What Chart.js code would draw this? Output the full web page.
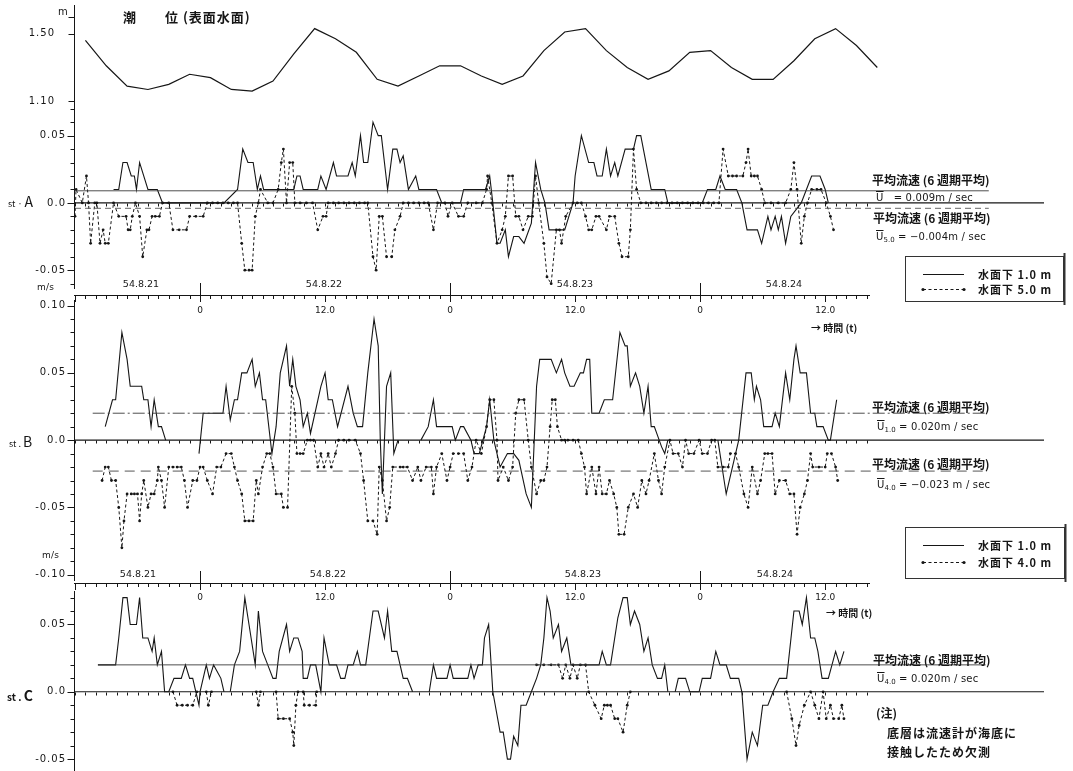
<!DOCTYPE html>
<html>
<head>
<meta charset="utf-8">
<script src="https://cdn.jsdelivr.net/npm/chart.js@4"></script>
<style>
  html, body { margin: 0; padding: 0; background: #fff; }
  #wrap { position: relative; width: 1073px; height: 771px; overflow: hidden; }
  canvas { position: absolute; left: 0; top: 0; }
  .t { position: absolute; font-family: "Noto Sans CJK JP", "DejaVu Sans", sans-serif; color: #161616;
       white-space: nowrap; line-height: 1; transform: translateY(-50%); font-size: 12px; font-weight: bold; }
  .n { font-family: "DejaVu Sans", sans-serif; font-size: 10px; letter-spacing: 0.2px; font-weight: normal; }
  .ov { text-decoration: overline; }
  sub { font-size: 7px; vertical-align: -2px; letter-spacing: 0; }
</style>
</head>
<body>
<div id="wrap">
  <canvas id="c" width="1073" height="771"></canvas>

  <div class="t" style="left:123px;top:16px;font-size:13px">潮</div>
  <div class="t" style="left:165px;top:16px;font-size:13px;letter-spacing:1px">位 (表面水面)</div>
  <div class="t n" style="left:58px;top:12px">m</div>

  <div class="t" style="left:8px;top:201px;font-weight:normal"><span style="font-size:9px">st · </span><span style="font-size:14px">A</span></div>
  <div class="t n" style="left:37px;top:287px;font-size:9px">m/s</div>
  <div class="t" style="left:9px;top:441px;font-weight:normal"><span style="font-size:9px">st . </span><span style="font-size:14px">B</span></div>
  <div class="t n" style="left:42px;top:555px;font-size:9px">m/s</div>
  <div class="t" style="left:7px;top:695px"><span style="font-size:10px">st . </span><span style="font-size:14px">C</span></div>

  <div class="t" style="left:811px;top:328px;font-size:10px">→ 時間 (t)</div>
  <div class="t" style="left:826px;top:613px;font-size:10px">→ 時間 (t)</div>

  <div class="t" style="left:872px;top:180px">平均流速 (6 週期平均)</div>
  <div class="t n" style="left:876px;top:198px"><span class="ov">U</span> &nbsp; = 0.009m / sec</div>
  <div class="t" style="left:873px;top:218px">平均流速 (6 週期平均)</div>
  <div class="t n" style="left:876px;top:238px"><span class="ov">U</span><sub>5.0</sub> = −0.004m / sec</div>

  <div class="t" style="left:872px;top:407px">平均流速 (6 週期平均)</div>
  <div class="t n" style="left:877px;top:428px"><span class="ov">U</span><sub>1.0</sub> = 0.020m / sec</div>
  <div class="t" style="left:872px;top:464px">平均流速 (6 週期平均)</div>
  <div class="t n" style="left:877px;top:486px"><span class="ov">U</span><sub>4.0</sub> = −0.023 m / sec</div>

  <div class="t" style="left:873px;top:660px">平均流速 (6 週期平均)</div>
  <div class="t n" style="left:877px;top:680px"><span class="ov">U</span><sub>4.0</sub> = 0.020m / sec</div>
  <div class="t" style="left:876px;top:713px">(注)</div>
  <div class="t" style="left:887px;top:733px;letter-spacing:1px">底層は流速計が海底に</div>
  <div class="t" style="left:887px;top:752px;letter-spacing:1px">接触したため欠測</div>

  <div class="t" style="left:978px;top:274px;letter-spacing:1px;font-size:11px">水面下 1.0 m</div>
  <div class="t" style="left:978px;top:289px;letter-spacing:1px;font-size:11px">水面下 5.0 m</div>
  <div class="t" style="left:978px;top:545px;letter-spacing:1px;font-size:11px">水面下 1.0 m</div>
  <div class="t" style="left:978px;top:562px;letter-spacing:1px;font-size:11px">水面下 4.0 m</div>
</div>

<script>
// 時刻は 54.8.22 0時を 0 とした経過時間 (h)

// 潮位 (m) [時刻, 潮位]
const tide = [[-11,1.46],[-9,1.31],[-7,1.19],[-5,1.17],[-3,1.20],[-1,1.26],[1,1.24],[3,1.17],[5,1.16],
  [7,1.22],[9,1.38],[11,1.53],[13,1.47],[15,1.39],[17,1.23],[19,1.19],[21,1.25],[23,1.31],[25,1.31],
  [27,1.25],[29,1.20],[31,1.25],[33,1.40],[35,1.51],[37,1.53],[39,1.40],[41,1.30],[43,1.23],[45,1.28],
  [47,1.39],[49,1.40],[51,1.30],[53,1.23],[55,1.23],[57,1.34],[59,1.47],[61,1.53],[63,1.43],[65,1.30]];

// st.A 水面下 1.0 m (m/s)
const stA10 = [[-8.3,0.01],[-7.8,0.01],[-7.4,0.03],[-7.0,0.03],[-6.6,0.02],[-6.3,0.02],[-6.1,0.01],[-5.8,0.03],
  [-5.0,0.01],[-4.1,0.01],[-3.6,0],[2.3,0],[3.6,0.01],[4.1,0.04],[4.6,0.03],[5.1,0.03],[5.5,0.01],[5.8,0.02],
  [6.1,0.01],[7.0,0.01],[8.0,0.01],[9.0,0.01],[9.3,0.02],[9.6,0.02],[9.9,0.01],[11.3,0.01],[11.6,0.02],[12.1,0.01],
  [12.8,0.03],[13.1,0.02],[14.2,0.02],[14.6,0.03],[14.9,0.02],[15.4,0.05],[15.7,0.03],[16.1,0.03],[16.6,0.06],
  [17.1,0.05],[17.4,0.05],[18.0,0.01],[18.5,0.04],[18.9,0.04],[19.2,0.03],[19.5,0.035],[20.0,0.01],[20.7,0.02],
  [21.0,0.01],[22.7,0.01],[23.2,0],[25.0,0],[25.3,0.01],[27.4,0.01],[27.8,0.02],[28.1,0],[28.5,-0.03],[28.8,-0.03],
  [29.3,-0.02],[29.6,-0.04],[30.1,-0.025],[30.6,-0.025],[31.1,-0.03],[31.8,-0.015],[32.2,0.03],[32.7,0.01],[33.1,0],
  [33.5,-0.02],[34.0,-0.02],[35.0,-0.02],[35.8,0],[36.0,0.02],[36.6,0.05],[37.3,0.03],[37.8,0.03],[38.1,0.02],
  [38.6,0.02],[39.0,0.04],[39.4,0.02],[39.8,0.03],[40.1,0.02],[40.8,0.04],[41.6,0.04],[41.9,0.05],[42.3,0.05],
  [42.8,0.03],[43.3,0.01],[44.6,0.01],[44.9,0],[48.2,0],[48.7,0.01],[49.5,0.01],[49.9,0.02],[50.4,0.01],[51.5,0.01],
  [52.0,0],[52.5,-0.02],[53.5,-0.02],[53.9,-0.03],[54.5,-0.01],[54.8,-0.02],[55.2,-0.01],[55.5,-0.02],[55.8,-0.01],
  [56.2,-0.03],[56.7,-0.01],[57.7,0],[58.2,0.01],[58.7,0.02],[59.5,0.02],[60.0,0.01],[60.3,0]];

// st.A 水面下 5.0 m
const stA50 = [[-12.0,-0.01],[-11.9,0.01],[-11.3,0],[-10.9,0.02],[-10.7,0],[-10.5,-0.03],[-10.1,0],[-9.9,0],
  [-9.6,-0.03],[-9.3,-0.02],[-9.1,-0.03],[-8.8,-0.03],[-8.3,0],[-7.8,-0.01],[-7.1,-0.01],[-6.9,-0.02],[-6.7,-0.02],
  [-6.5,-0.01],[-6.2,0],[-5.8,-0.01],[-5.5,-0.04],[-5.1,-0.02],[-4.9,-0.02],[-4.6,-0.01],[-4.3,-0.01],[-3.9,-0.01],
  [-3.6,0],[-3.0,0],[-2.6,-0.02],[-2.0,-0.02],[-1.3,-0.02],[-1.0,-0.01],[-0.4,-0.01],[0.3,-0.01],[0.7,0],[1.2,0],
  [1.7,0],[2.2,0],[2.7,0],[3.2,0],[3.6,0],[4.0,-0.03],[4.3,-0.05],[4.7,-0.05],[5.0,-0.05],[5.3,-0.01],[5.6,0],
  [5.8,0.01],[6.5,0],[7.0,0],[7.5,0.01],[7.8,0.03],[8.0,0.04],[8.3,0],[8.6,0.03],[8.9,0.03],[9.1,0],[9.6,0],
  [10.2,0],[10.8,0],[11.3,-0.02],[11.8,-0.01],[12.1,-0.01],[12.3,0],[12.8,0],[13.3,0],[13.8,0],[14.3,0],[14.8,0],
  [15.3,0],[15.8,0],[16.1,0],[16.6,-0.04],[16.9,-0.05],[17.2,-0.01],[17.5,-0.01],[17.9,-0.04],[18.4,-0.04],
  [18.7,-0.02],[19.2,-0.01],[19.5,0],[20.0,0],[20.5,0],[21.0,0],[21.5,0],[21.9,0],[22.4,-0.02],[22.8,0],[23.5,0],
  [23.8,-0.01],[24.2,0],[24.8,-0.01],[25.3,-0.01],[25.7,0],[26.5,0],[27.1,0],[27.5,0.01],[27.6,0.02],[28.0,0],
  [28.5,-0.03],[29.0,-0.02],[29.3,-0.01],[29.6,0.02],[30.0,0.02],[30.3,-0.01],[30.6,-0.01],[31.0,-0.02],
  [31.5,-0.01],[31.9,-0.01],[32.2,0.02],[32.5,0],[33.0,-0.03],[33.3,-0.055],[33.7,-0.06],[34.2,-0.02],[34.5,-0.02],
  [34.7,-0.03],[35.1,-0.01],[35.8,0],[36.2,0],[36.6,0],[37.0,-0.01],[37.3,-0.02],[37.6,-0.02],[38.0,-0.01],
  [38.3,-0.01],[39.0,-0.02],[39.3,-0.01],[39.8,-0.01],[40.2,-0.03],[40.5,-0.04],[41.1,-0.04],[41.3,-0.02],
  [41.6,0.04],[41.9,0.01],[42.3,0],[42.8,0],[43.3,0],[43.8,0],[44.3,0],[44.8,0],[45.3,0],[45.8,0],[46.3,0],
  [46.8,0],[47.3,0],[47.8,0],[48.3,0],[48.8,0],[49.3,0],[49.8,0],[50.2,0.04],[50.7,0.02],[51.1,0.02],[51.5,0.02],
  [52.1,0.02],[52.4,0.03],[52.6,0.04],[52.9,0.02],[53.2,0.02],[53.5,0.02],[53.9,0.01],[54.2,0],[54.8,0],[55.5,0],
  [56.2,0],[56.7,0.01],[57.0,0.03],[57.3,0.01],[57.7,-0.03],[58.0,-0.01],[58.3,0],[58.7,0.01],[59.2,0.01],
  [59.6,0.01],[60.1,0],[60.5,-0.01],[60.8,-0.02]];

// st.B 水面下 1.0 m
const stB10 = [[-9.1,0.01],[-8.4,0.03],[-8.1,0.03],[-7.5,0.08],[-7.0,0.06],[-6.7,0.04],[-5.6,0.04],[-5.4,0.03],
  [-5.0,0.03],[-4.7,0.01],[-4.4,0.03],[-4.0,0.01],[-3.7,0.01],[-3.3,0],[-2.0,null],
  [-0.1,-0.01],[0.3,0.02],[2.2,0.02],[2.5,0.04],[2.9,0.015],[3.3,0.03],[3.6,0.03],[4.0,0.05],[4.5,0.05],[5.0,0.06],
  [5.3,0.04],[5.7,0.05],[6.0,0.03],[6.3,0.03],[6.9,-0.01],[7.3,0.01],[7.7,0.05],[8.3,0.07],[8.6,0.04],[8.9,0.06],
  [9.2,0.04],[9.6,0.03],[9.9,0.01],[10.3,0.02],[10.6,0.005],[11.6,0.04],[12.0,0.05],[12.3,0.03],[12.7,0.03],
  [13.2,0.01],[14.2,0.04],[14.7,0.02],[15.1,0.01],[15.6,0.01],[16.1,0.05],[16.7,0.09],[17.1,0.07],[17.3,0],
  [17.5,-0.04],[17.9,0.04],[18.3,0.05],[18.6,-0.01],[19.0,0],[20.0,null],
  [21.2,0],[21.9,0.01],[22.4,0.03],[22.7,0.01],[24.2,0.01],[24.5,0],[25.0,0.01],[25.3,0.01],[26.0,0],[26.3,-0.01],
  [26.8,-0.01],[27.5,0.01],[27.8,0.03],[28.2,0],[28.8,-0.02],[29.5,-0.01],[30.1,-0.01],[30.6,-0.015],[31.3,-0.04],
  [31.8,-0.05],[32.3,0.04],[32.6,0.06],[33.3,0.06],[33.7,0.06],[34.2,0.05],[34.7,0.06],[35.0,0.05],[35.5,0.04],
  [35.9,0.04],[36.5,0.05],[36.8,0.05],[37.1,0.06],[37.4,0.06],[37.6,0.02],[38.3,0.02],[38.8,0.03],[39.6,0.03],
  [40.3,0.08],[40.8,0.07],[41.0,0.07],[41.3,0.04],[41.8,0.05],[42.2,0.04],[42.6,0.02],[43.0,0.04],[43.3,0.01],
  [43.6,0.01],[44.3,-0.005],[44.6,-0.01],[44.9,0],[47.0,null],
  [49.7,0],[50.5,-0.04],[51.7,0],[52.4,0.05],[52.9,0.05],[53.2,0.03],[53.4,0.04],[53.8,0.03],[54.1,0.01],
  [54.9,0.01],[55.2,0.02],[55.6,0.01],[56.2,0.05],[56.6,0.03],[57.0,0.06],[57.2,0.07],[57.6,0.05],[58.2,0.05],
  [58.6,0.02],[59.0,0.02],[59.2,0.01],[59.8,0.01],[60.3,0],[60.5,0],[61.1,0.03]];

// st.B 水面下 4.0 m
const stB40 = [[-9.4,-0.03],[-9.1,-0.02],[-8.8,-0.02],[-8.5,-0.03],[-8.1,-0.03],[-7.8,-0.05],[-7.5,-0.08],
  [-7.3,-0.06],[-7.0,-0.04],[-6.6,-0.04],[-6.3,-0.04],[-6.0,-0.04],[-5.8,-0.06],[-5.6,-0.04],[-5.4,-0.03],
  [-5.0,-0.05],[-4.7,-0.04],[-4.4,-0.04],[-4.1,-0.03],[-4.0,-0.02],[-3.7,-0.03],[-3.4,-0.05],[-3.0,-0.02],
  [-2.6,-0.02],[-2.2,-0.02],[-1.8,-0.02],[-1.5,-0.03],[-1.2,-0.05],[-0.7,-0.03],[-0.3,-0.03],[0.0,-0.02],
  [0.3,-0.02],[0.7,-0.03],[1.2,-0.04],[1.6,-0.02],[2.0,-0.02],[2.5,-0.01],[3.0,-0.01],[3.3,-0.02],[3.6,-0.03],
  [4.0,-0.04],[4.3,-0.06],[4.7,-0.06],[5.1,-0.06],[5.4,-0.03],[5.6,-0.04],[6.0,-0.02],[6.4,-0.01],[6.7,-0.01],
  [7.0,-0.02],[7.3,-0.04],[7.8,-0.04],[8.0,-0.05],[8.4,-0.05],[8.8,0.04],[9.1,0.02],[9.3,-0.01],[9.6,-0.01],
  [9.9,-0.01],[10.3,0],[10.6,0],[10.9,0],[11.3,-0.02],[11.6,-0.01],[11.9,-0.02],[12.3,-0.01],[12.6,-0.02],
  [13.0,-0.01],[13.3,0],[13.8,0],[14.3,0],[14.9,0],[15.4,-0.01],[15.7,-0.03],[16.1,-0.06],[16.6,-0.06],
  [17.0,-0.07],[17.2,-0.02],[17.5,-0.03],[17.9,-0.06],[18.2,-0.05],[18.5,-0.02],[19.2,-0.02],[19.5,-0.02],
  [19.9,-0.02],[20.4,-0.03],[20.9,-0.02],[21.2,-0.03],[21.7,-0.02],[22.2,-0.02],[22.4,-0.04],[22.7,-0.02],
  [23.2,-0.01],[23.7,-0.03],[24.0,-0.02],[24.3,-0.01],[24.8,-0.01],[25.3,-0.01],[25.7,-0.03],[26.1,-0.02],
  [26.5,0],[27.0,-0.01],[27.5,0.01],[27.8,0.03],[28.2,0.03],[28.5,0],[28.6,-0.03],[29.1,-0.02],[29.6,-0.03],
  [30.0,-0.02],[30.3,0.02],[30.6,0.03],[31.1,0.03],[31.5,0],[31.8,-0.02],[32.3,-0.04],[32.7,-0.03],[33.0,-0.03],
  [33.3,-0.02],[33.6,0.01],[33.8,0.03],[34.1,0.03],[34.3,0.01],[34.7,0],[35.0,0],[35.3,0],[35.8,0],[36.3,0],
  [36.6,-0.01],[36.9,-0.02],[37.1,-0.04],[37.6,-0.02],[38.0,-0.04],[38.3,-0.02],[38.6,-0.04],[39.0,-0.04],
  [39.3,-0.03],[39.7,-0.04],[40.0,-0.05],[40.2,-0.07],[40.7,-0.07],[41.1,-0.05],[41.6,-0.04],[42.0,-0.05],
  [42.4,-0.03],[42.8,-0.04],[43.1,-0.03],[43.6,-0.01],[44.0,-0.03],[44.3,-0.04],[44.6,-0.02],[45.1,0],
  [45.4,-0.01],[45.9,-0.01],[46.3,-0.02],[46.6,0],[46.9,-0.01],[47.4,-0.01],[47.9,0],[48.2,-0.01],[48.7,-0.01],
  [49.1,0],[49.4,0],[49.7,-0.02],[50.2,-0.02],[50.7,-0.02],[50.9,-0.01],[51.4,-0.01],[51.7,-0.02],[52.2,-0.04],
  [52.6,-0.05],[53.0,-0.02],[53.5,-0.04],[53.8,-0.03],[54.2,-0.01],[54.5,-0.01],[54.9,-0.01],[55.2,-0.04],
  [55.6,-0.03],[56.2,-0.03],[56.6,-0.04],[57.0,-0.04],[57.3,-0.07],[57.6,-0.05],[58.0,-0.04],[58.3,-0.03],
  [58.6,-0.01],[58.8,-0.02],[59.4,-0.02],[60.0,-0.02],[60.2,-0.01],[60.6,-0.01],[61.0,-0.02],[61.2,-0.03]];

// st.C 水面下 1.0 m
const stC10 = [[-9.8,0.02],[-8.1,0.02],[-7.8,0.04],[-7.4,0.07],[-7.0,0.07],[-6.7,0.05],[-6.1,0.05],[-5.8,0.07],
  [-5.5,0.04],[-5.0,0.04],[-4.6,0.03],[-4.4,0.04],[-4.1,0.02],[-3.7,0.03],[-3.4,0],[-3.0,0],[-2.5,0.01],
  [-1.8,0.01],[-1.4,0.02],[-1.0,0.01],[-0.7,0.01],[-0.4,0],[-0.1,-0.01],[0.0,0],[0.6,0.02],[0.9,0.01],[1.3,0.02],
  [2.0,0.01],[2.3,0],[2.6,null],
  [2.9,0],[3.3,0.02],[3.8,0.03],[4.3,0.07],[4.7,0.05],[5.3,0.02],[5.6,0.06],[6.0,0.03],[6.5,0.02],[7.0,0.01],
  [7.3,0.01],[7.6,0.03],[8.3,0.05],[8.6,0.03],[9.0,0.04],[9.4,0.04],[9.8,0.03],[9.9,0.01],[10.3,0.01],[10.6,0.02],
  [11.1,0.02],[11.6,0],[11.9,0.04],[12.4,0.02],[13.1,0.02],[13.5,0.01],[13.9,0.01],[14.2,0.02],[14.7,0.02],
  [15.1,0.03],[15.4,0.02],[15.9,0.02],[16.6,0.06],[17.1,0.06],[17.7,0.04],[18.0,0.06],[18.4,0.03],[18.9,0.03],
  [19.5,0.01],[19.9,0.01],[20.4,0],[21.0,null],
  [22.0,0],[22.4,0.02],[22.7,0.01],[23.7,0.01],[24.0,0.02],[24.3,0.01],[25.7,0.01],[26.0,0.02],[26.3,0.01],
  [26.7,0.02],[27.1,0.02],[27.3,0.04],[27.7,0.05],[28.1,0],[28.8,-0.03],[29.1,-0.03],[29.5,-0.05],[29.8,-0.05],
  [30.1,-0.033],[30.5,-0.04],[30.8,-0.01],[31.3,-0.01],[31.8,0],[32.3,0.01],[32.7,0.02],[33.0,0.04],[33.3,0.07],
  [33.6,0.06],[33.9,0.04],[34.4,0.05],[34.7,0.03],[35.2,0.04],[35.6,0.02],[38.3,0.02],[38.6,0.03],[39.0,0.02],
  [39.4,0.02],[40.1,0.055],[40.6,0.07],[41.0,0.07],[41.3,0.05],[41.7,0.06],[42.2,0.05],[42.6,0.03],[43.0,0.04],
  [43.4,0.02],[43.9,0.01],[44.3,0.01],[44.6,0.02],[44.9,0],[45.2,null],
  [45.6,0],[45.9,0.01],[46.6,0.01],[47.0,0],[47.9,0],[48.2,0.01],[49.0,0.01],[49.5,0.03],[49.9,0.02],[50.5,0.02],
  [50.9,0.01],[51.7,0.01],[52.0,0],[52.5,-0.05],[53.0,-0.03],[53.5,-0.04],[54.0,-0.01],[54.5,-0.01],[55.0,0],
  [55.6,0.01],[56.0,0.01],[56.3,0.01],[57.0,0.06],[57.5,0.06],[57.8,0.05],[58.2,0.07],[58.6,0.04],[59.0,0.04],
  [59.3,0.03],[59.7,0.01],[60.3,0.01],[61.0,0.03],[61.4,0.02],[61.8,0.03]];

// st.C 水面下 4.0 m (底層は欠測のため途切れ途切れ)
const stC40 = [[-2.6,0],[-2.2,-0.01],[-1.7,-0.01],[-1.2,-0.01],[-0.7,-0.01],[-0.3,0],[0.2,null],
  [0.6,0],[0.8,-0.01],[1.1,0],[1.5,null],
  [5.4,0],[5.6,-0.01],[5.8,0],[6.2,null],
  [7.3,0],[7.5,-0.02],[8.0,-0.02],[8.6,-0.02],[8.9,-0.03],[9.0,-0.04],[9.2,-0.01],[9.4,0],[9.6,null],
  [9.9,0],[10.0,-0.01],[10.5,-0.01],[11.1,-0.01],[11.2,0],[12.0,null],
  [32.3,0.02],[33.0,0.02],[33.7,0.02],[34.4,0.02],[34.8,0.01],[35.1,0.02],[35.5,0.01],[35.8,0.02],[36.2,0.01],
  [36.5,0.02],[37.0,0.02],[37.3,0],[37.9,-0.01],[38.5,-0.02],[38.8,-0.01],[39.1,-0.01],[39.4,-0.01],[39.8,-0.02],
  [40.1,-0.02],[40.6,-0.03],[41.0,-0.01],[41.3,0],[42.0,null],
  [56.3,0],[56.8,-0.02],[57.2,-0.04],[57.5,-0.025],[58.0,-0.01],[58.6,0],[59.0,-0.01],[59.4,-0.02],[59.8,0],
  [60.1,-0.02],[60.5,-0.01],[60.8,-0.02],[61.3,-0.02],[61.6,-0.01],[61.8,-0.02]];

// 平均流速 (6週期平均, m/s)
const meanA10 = 0.009, meanA50 = -0.004;
const meanB10 = 0.020, meanB40 = -0.023;
const meanC10 = 0.020;

// 目盛
const hourTicks = [0, 12, 24, 36, 48, 60];
const hourLabels = ["0", "12.0", "0", "12.0", "0", "12.0"];
const dayBreaks = [0, 24, 48];
const dayLabels = ["54.8.21", "54.8.22", "54.8.23", "54.8.24"];
const tideTickVals = [1.60, 1.50, 1.10];
const tideLabelVals = [1.50, 1.10];
const tideLabels = ["1.50", "1.10"];
const aLabelVals = [0.05, 0, -0.05];
const aLabels = ["0.05", "0.0", "-0.05"];
const bLabelVals = [0.10, 0.05, 0, -0.05, -0.10];
const bLabels = ["0.10", "0.05", "0.0", "-0.05", "-0.10"];
const cLabelVals = [0.05, 0, -0.05];
const cLabels = ["0.05", "0.0", "-0.05"];

// 各段の縦位置 (全段で一つの描画領域を共有し、軸の範囲で段を分ける)
const H = 771;
function span(refVal, refPx, pxPerUnit) {
  return { min: refVal - (H - refPx) / pxPerUnit, max: refVal + refPx / pxPerUnit };
}
const rT = span(1.50, 30, 170.8);
const rA = span(0, 201, 1360);
const rB = span(0, 440.7, 1360);
const rC = span(0, 695, 1360);

const INK = '#161616';
const pts = arr => arr.map(p => ({ x: p[0], y: p[1] }));
const flat = (v, x0, x1) => [{ x: x0, y: v }, { x: x1, y: v }];

function solid(data, yAxisID) {
  return { data: pts(data), yAxisID, borderColor: INK, borderWidth: 1.1, pointRadius: 0, spanGaps: false };
}
function dotted(data, yAxisID) {
  return { data: pts(data), yAxisID, borderColor: INK, borderWidth: 1, borderDash: [3, 2.5],
           pointRadius: 1.4, pointBackgroundColor: INK, pointBorderWidth: 0, spanGaps: false };
}
function guide(data, yAxisID, dash, color, width) {
  return { data, yAxisID, borderColor: color, borderWidth: width, borderDash: dash, pointRadius: 0 };
}

const datasets = [
  guide(flat(0, -12, 81), 'yA', [], INK, 1.1),
  guide(flat(0, -12, 81), 'yB', [], INK, 1.1),
  guide(flat(0, -12, 81), 'yC', [], INK, 1.1),
  guide(flat(meanA10, -12, 75.7), 'yA', [], '#3a3a3a', 0.9),
  guide(flat(meanA50, -12, 75.7), 'yA', [6, 4], '#555', 0.9),
  guide(flat(meanB10, -10.3, 75.4), 'yB', [12, 3, 2, 3], '#3a3a3a', 0.9),
  guide(flat(meanB40, -10.3, 75.4), 'yB', [10, 6], '#444', 0.9),
  guide(flat(meanC10, -9.8, 75.4), 'yC', [], '#3a3a3a', 0.9),
  { data: pts(tide), yAxisID: 'yT', borderColor: INK, borderWidth: 1.2, pointRadius: 0 },
  solid(stA10, 'yA'), dotted(stA50, 'yA'),
  solid(stB10, 'yB'), dotted(stB40, 'yB'),
  solid(stC10, 'yC'), dotted(stC40, 'yC')
];

// 軸・時間目盛・凡例枠を描く
const frame = {
  id: 'frame',
  afterDraw(chart) {
    const c = chart.ctx, s = chart.scales, xs = s.x;
    const AX = 74.5;
    const seg = (x0, y0, x1, y1) => { c.beginPath(); c.moveTo(x0, y0); c.lineTo(x1, y1); c.stroke(); };
    const px = (sc, v) => Math.round(sc.getPixelForValue(v)) + 0.5;
    c.save();
    c.strokeStyle = INK; c.fillStyle = INK; c.lineWidth = 1;

    // 縦軸
    seg(AX, 5, AX, 289);
    seg(AX, 300, AX, 581);
    seg(AX, 591, AX, 771);

    tideTickVals.forEach(v => seg(AX - 6, px(s.yT, v), AX, px(s.yT, v)));
    const minor = (sc, top, bottom) => {
      for (let k = top; k >= bottom; k--) { const y = px(sc, k / 100); seg(AX - 4, y, AX, y); }
    };
    minor(s.yA, 7, -6); minor(s.yB, 10, -10); minor(s.yC, 7, -5);

    c.font = '10px "DejaVu Sans", sans-serif';
    c.letterSpacing = '1px';
    c.textAlign = 'right'; c.textBaseline = 'middle';
    tideLabelVals.forEach((v, i) => c.fillText(tideLabels[i], 55, s.yT.getPixelForValue(v)));
    const labels = (sc, vals, texts) => vals.forEach((v, i) => {
      seg(AX - 7, px(sc, v), AX, px(sc, v));
      c.fillText(texts[i], 66, sc.getPixelForValue(v));
    });
    labels(s.yA, aLabelVals, aLabels);
    labels(s.yB, bLabelVals, bLabels);
    labels(s.yC, cLabelVals, cLabels);

    // 零線上の時間刻み
    [s.yA, s.yB, s.yC].forEach(sc => {
      const y = px(sc, 0);
      for (let h = -12; h <= 64; h++) { const x = px(xs, h); seg(x, y, x, y + 3); }
    });

    // 時間軸の帯
    c.letterSpacing = '0px';
    const band = (yl, dateY, labY, datesX) => {
      seg(74, yl + 0.5, 870, yl + 0.5);
      for (let h = -12; h <= 64; h++) {
        const x = px(xs, h);
        seg(x, yl, x, yl + (h % 12 === 0 ? 7 : 4));
      }
      dayBreaks.forEach(h => { const x = px(xs, h); seg(x, yl - 12, x, yl); });
      c.textAlign = 'center';
      c.font = '9px "DejaVu Sans", sans-serif';
      hourTicks.forEach((h, i) => c.fillText(hourLabels[i], xs.getPixelForValue(h), labY));
      c.font = '9.5px "DejaVu Sans", sans-serif';
      dayLabels.forEach((d, i) => c.fillText(d, datesX[i], dateY));
    };
    band(295, 285, 311, [141, 324, 575, 784]);
    band(583, 575, 598, [138, 328, 583, 775]);

    // 凡例
    const box = (x, y, w, h) => {
      c.lineWidth = 1; c.strokeStyle = '#333';
      c.strokeRect(x + 0.5, y + 0.5, w, h);
      c.lineWidth = 2; seg(x + w + 1.5, y - 3, x + w + 1.5, y + h + 4);
      c.lineWidth = 1; c.strokeStyle = INK;
    };
    const keySolid = y => seg(923, y + 0.5, 964, y + 0.5);
    const keyDot = y => {
      c.setLineDash([3, 2.5]); seg(923, y + 0.5, 964, y + 0.5); c.setLineDash([]);
      [923, 964].forEach(x => { c.beginPath(); c.arc(x, y + 0.5, 1.6, 0, Math.PI * 2); c.fill(); });
    };
    box(905, 256, 158, 45); keySolid(274); keyDot(289);
    box(905, 527, 159, 51); keySolid(545); keyDot(562);

    c.restore();
  }
};

new Chart(document.getElementById('c'), {
  type: 'line',
  data: { datasets },
  options: {
    responsive: false,
    animation: false,
    devicePixelRatio: 1,
    layout: { padding: { left: 75, right: 29, top: 0, bottom: 0 } },
    elements: { line: { tension: 0 } },
    plugins: { legend: { display: false }, tooltip: { enabled: false } },
    scales: {
      x: { type: 'linear', min: -12, max: 81, display: false },
      yT: { type: 'linear', min: rT.min, max: rT.max, display: false },
      yA: { type: 'linear', min: rA.min, max: rA.max, display: false },
      yB: { type: 'linear', min: rB.min, max: rB.max, display: false },
      yC: { type: 'linear', min: rC.min, max: rC.max, display: false }
    }
  },
  plugins: [frame]
});
</script>
</body>
</html>
